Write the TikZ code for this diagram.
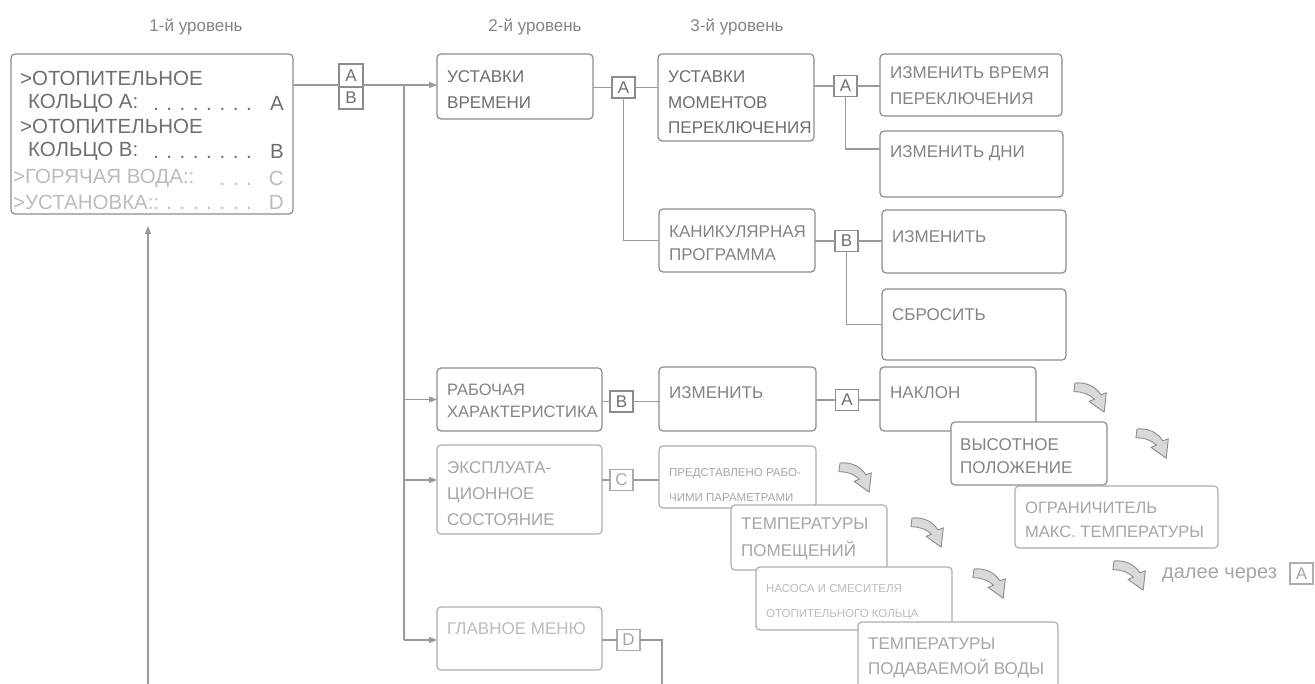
\documentclass[tikz,border=0pt]{standalone}
\usepackage{fontspec}
\setmainfont{Liberation Sans}
\usetikzlibrary{arrows.meta,calc}
\definecolor{tc1}{HTML}{6E6E6E}
\definecolor{tc2}{HTML}{848484}
\definecolor{tc3}{HTML}{A6A6A6}
\definecolor{tc4}{HTML}{BCBCBC}
\definecolor{bc}{HTML}{8C8C8C}
\definecolor{bcl}{HTML}{ADADAD}
\definecolor{lc}{HTML}{9A9A9A}
\definecolor{af}{HTML}{D9D9D9}
\begin{document}
\begin{tikzpicture}[x=1pt,y=-1pt,
  box/.style={draw=bc, line width=1.2pt, rounded corners=4pt, fill=white, inner sep=0pt, outer sep=0pt, anchor=north west},
  fbox/.style={box, draw=bcl},
  lbl/.style={draw=bc, line width=1.1pt, fill=white, minimum width=23pt, minimum height=21pt, inner sep=0pt, outer sep=0pt, font=\fontsize{17}{17}\selectfont, text=tc1},
  flbl/.style={lbl, draw=bcl, text=tc3},
  con/.style={draw=lc, line width=1.2pt},
  arr/.style={con, -{Triangle[length=8pt,width=6pt]}},
  tx/.style={inner sep=0pt, anchor=west, align=left},
  big/.style={tx, font=\fontsize{20.5}{20.5}\selectfont},
  curvarr/.pic={
    \filldraw[fill=af, draw=bc, line width=0.9pt, line join=round]
      (0,0) .. controls (10,-1) and (19,3) .. (24,11) -- (29,9) -- (27,27) -- (13,17) -- (18,15)
      .. controls (13,10) and (6,8) .. (-1,8) -- cycle;
  }
]
\useasboundingbox (0,0) rectangle (1315,684);
\clip (0,0) rectangle (1315,684);

% titles
\node[tx, anchor=center, font=\fontsize{17}{17}\selectfont, text=tc2] (t1) at (196,27) {1-й уровень};
\node[tx, anchor=center, font=\fontsize{17}{17}\selectfont, text=tc2] (t2) at (535,27) {2-й уровень};
\node[tx, anchor=center, font=\fontsize{17}{17}\selectfont, text=tc2] (t3) at (737,27) {3-й уровень};

% level 1 box
\node[box, minimum width=282pt, minimum height=160pt] (box1) at (11,54) {};
\node[big, text=tc1] (m1) at (20,78) {>ОТОПИТЕЛЬНОЕ};
\node[big, text=tc1] (m2) at (28,103) {КОЛЬЦО A:};
\node[big, text=tc1, anchor=east] (m2d) at (252,103) {\vphantom{A}. . . . . . . .};
\node[big, text=tc1, anchor=east] (m2l) at (284,103) {A};
\node[big, text=tc1] (m3) at (20,126) {>ОТОПИТЕЛЬНОЕ};
\node[big, text=tc1] (m4) at (28,151) {КОЛЬЦО B:};
\node[big, text=tc1, anchor=east] (m4d) at (252,151) {\vphantom{A}. . . . . . . .};
\node[big, text=tc1, anchor=east] (m4l) at (284,151) {B};
\node[big, text=tc4] (m5) at (13,178) {>ГОРЯЧАЯ ВОДА::};
\node[big, text=tc4, anchor=east] (m5d) at (252,178) {\vphantom{A}. . .};
\node[big, text=tc4, anchor=east] (m5l) at (284,178) {C};
\node[big, text=tc4] (m6) at (13,202) {>УСТАНОВКА::};
\node[big, text=tc4, anchor=east] (m6d) at (252,202) {\vphantom{A}. . . . . . .};
\node[big, text=tc4, anchor=east] (m6l) at (284,202) {D};

% A/B selector
\node[lbl, minimum width=24pt, minimum height=23pt] (lA) at (351,75.5) {A};
\node[lbl, minimum width=24pt, minimum height=22pt] (lB) at (351,98) {B};

% level 2 boxes
\node[box, minimum width=156pt, minimum height=65pt] (ustv) at (437,54) {};
\node[tx, font=\fontsize{17}{26}\selectfont, text=tc1] (ustvT) at (447,90) {УСТАВКИ\\ВРЕМЕНИ};
\node[box, minimum width=165pt, minimum height=63pt] (rab) at (437,368) {};
\node[tx, font=\fontsize{16.5}{22}\selectfont, text=tc2] (rabT) at (447,401) {РАБОЧАЯ\\ХАРАКТЕРИСТИКА};
\node[fbox, minimum width=165pt, minimum height=89pt] (expl) at (437,445) {};
\node[tx, font=\fontsize{17}{26}\selectfont, text=tc3] (explT) at (447,494) {ЭКСПЛУАТА-\\ЦИОННОЕ\\СОСТОЯНИЕ};
\node[fbox, minimum width=165pt, minimum height=63pt] (glav) at (437,607) {};
\node[tx, font=\fontsize{17}{26}\selectfont, text=tc4] (glavT) at (447,629) {ГЛАВНОЕ МЕНЮ};

% level 3 boxes
\node[box, minimum width=156pt, minimum height=87pt] (UM) at (658,54) {};
\node[tx, font=\fontsize{17}{25.5}\selectfont, text=tc1] (UMT) at (668,102.5) {УСТАВКИ\\МОМЕНТОВ\\ПЕРЕКЛЮЧЕНИЯ};
\node[box, minimum width=156pt, minimum height=63pt] (KAN) at (659,209) {};
\node[tx, font=\fontsize{17}{23}\selectfont, text=tc2] (KANT) at (669,243.5) {КАНИКУЛЯРНАЯ\\ПРОГРАММА};
\node[box, minimum width=157pt, minimum height=64pt] (izm2) at (659,367) {};
\node[tx, font=\fontsize{17}{23}\selectfont, text=tc2] (izm2T) at (669,393) {ИЗМЕНИТЬ};
\node[fbox, minimum width=157pt, minimum height=62pt] (pred) at (659,446) {};
\node[tx, font=\fontsize{11.5}{25}\selectfont, text=tc3] (predT) at (669,484.5) {ПРЕДСТАВЛЕНО РАБО-\\ЧИМИ ПАРАМЕТРАМИ};
\node[fbox, minimum width=156pt, minimum height=65pt] (TP) at (731,505) {};
\node[tx, font=\fontsize{17}{27}\selectfont, text=tc3] (TPT) at (741,538.5) {ТЕМПЕРАТУРЫ\\ПОМЕЩЕНИЙ};
\node[fbox, minimum width=196pt, minimum height=63pt] (NAS) at (756,567) {};
\node[tx, font=\fontsize{11.5}{25}\selectfont, text=tc4] (NAST) at (766,602.5) {НАСОСА И СМЕСИТЕЛЯ\\ОТОПИТЕЛЬНОГО КОЛЬЦА};
\node[fbox, minimum width=200pt, minimum height=78pt] (TPV) at (858,622) {};
\node[tx, font=\fontsize{17}{25}\selectfont, text=tc3] (TPVT) at (868,657.5) {ТЕМПЕРАТУРЫ\\ПОДАВАЕМОЙ ВОДЫ};

% level 4 boxes
\node[box, minimum width=182pt, minimum height=62pt] (IVP) at (880,54) {};
\node[tx, font=\fontsize{17}{26}\selectfont, text=tc2] (IVPT) at (890,86) {ИЗМЕНИТЬ ВРЕМЯ\\ПЕРЕКЛЮЧЕНИЯ};
\node[box, minimum width=183pt, minimum height=66pt] (ID) at (880,131) {};
\node[tx, font=\fontsize{17}{26}\selectfont, text=tc2] (IDT) at (890,153) {ИЗМЕНИТЬ ДНИ};
\node[box, minimum width=184pt, minimum height=63pt] (IZM) at (882,210) {};
\node[tx, font=\fontsize{17}{26}\selectfont, text=tc2] (IZMT) at (892,237) {ИЗМЕНИТЬ};
\node[box, minimum width=184pt, minimum height=71pt] (SBR) at (882,289) {};
\node[tx, font=\fontsize{17}{26}\selectfont, text=tc2] (SBRT) at (892,315) {СБРОСИТЬ};
\node[box, minimum width=156pt, minimum height=64pt] (NAK) at (880,367) {};
\node[tx, font=\fontsize{17}{26}\selectfont, text=tc2] (NAKT) at (890,393) {НАКЛОН};
\node[box, minimum width=156pt, minimum height=63pt] (VYS) at (951,422) {};
\node[tx, font=\fontsize{17}{23}\selectfont, text=tc2] (VYST) at (960,456.5) {ВЫСОТНОЕ\\ПОЛОЖЕНИЕ};
\node[fbox, minimum width=203pt, minimum height=62pt] (OGR) at (1015,486) {};
\node[tx, font=\fontsize{16.5}{24}\selectfont, text=tc3] (OGRT) at (1025,520) {ОГРАНИЧИТЕЛЬ\\МАКС. ТЕМПЕРАТУРЫ};

% small selector labels
\node[lbl] (a2) at (623.5,87.5) {A};
\node[lbl] (a3) at (845.5,86) {A};
\node[lbl] (b3) at (846.5,241) {B};
\node[lbl] (b2) at (621.5,401.5) {B};
\node[lbl] (a4) at (847,400) {A};
\node[flbl] (c2) at (621.5,480) {C};
\node[flbl] (d2) at (628.5,640) {D};

% continuation
\node[tx, font=\fontsize{20}{20}\selectfont, text=tc3] (dal) at (1162,575) {далее через};
\node[flbl] (afin) at (1301.5,573.5) {A};

% coordinates
\coordinate (j1) at (404,85);
\coordinate (dend) at (662,690);
\coordinate (bstart) at (148,690);
\coordinate (btip) at (148,226);

% connectors
\draw[con] (box1.east |- j1) -- (lA.west |- j1);
\draw[arr] (lA.east |- j1) -- (ustv.west |- j1);
\draw[con] (j1) -- (j1 |- d2);
\draw[arr] (j1 |- rab.west) -- (rab.west);
\draw[arr] (j1 |- c2) -- (expl.west |- c2);
\draw[arr] (j1 |- d2) -- (glav.west |- d2);
\draw[con] (ustv.east |- a2) -- (a2.west);
\draw[con] (a2.east) -- (UM.west |- a2);
\draw[con] (a2.south) |- (KAN.west);
\draw[con] (UM.east |- a3) -- (a3.west);
\draw[con] (a3.east) -- (IVP.west |- a3);
\draw[con] (a3.south) |- ([yshift=-18pt]ID.north west);
\draw[con] (KAN.east |- b3) -- (b3.west);
\draw[con] (b3.east) -- (IZM.west |- b3);
\draw[con] (b3.south) |- (SBR.west);
\draw[con] (rab.east |- b2) -- (b2.west);
\draw[con] (b2.east) -- (izm2.west |- b2);
\draw[con] (izm2.east |- a4) -- (a4.west);
\draw[con] (a4.east) -- (NAK.west |- a4);
\draw[con] (expl.east |- c2) -- (c2.west);
\draw[con] (c2.east) -- (pred.west |- c2);
\draw[con] (glav.east |- d2) -- (d2.west);
\draw[con] (d2.east) -| (dend);
\draw[arr] (bstart) -- (btip);

% curved "next" arrows
\pic[scale=1.08] (ar1) at (1075,383) {curvarr};
\pic[scale=1.08] (ar2) at (1137,429) {curvarr};
\pic[scale=1.08] (ar3) at (840,463) {curvarr};
\pic[scale=1.08] (ar4) at (912,518) {curvarr};
\pic[scale=1.08] (ar5) at (974,569) {curvarr};
\pic[scale=1.08] (ar6) at (1114,561) {curvarr};
\end{tikzpicture}
\end{document}
